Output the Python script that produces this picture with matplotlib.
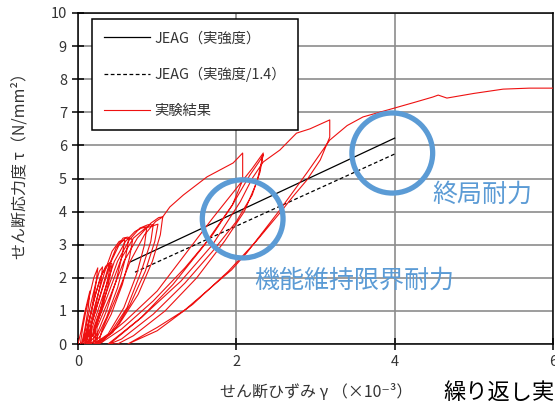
import matplotlib
matplotlib.use('Agg')
import matplotlib.pyplot as plt
from matplotlib.patches import Ellipse

plt.rcParams['font.family'] = ['Noto Sans CJK JP', 'DejaVu Sans']

# JEAG skeleton lines (shear strain x1e-3, shear stress N/mm2)
jeag_x = [0.66, 4.0]
jeag_y = [2.48, 6.22]
jeag14_x = [0.72, 4.0]
jeag14_y = [2.17, 5.74]

# experiment: small cycles near the origin
small_x = [0, 0.04, 0.08, 0.12, 0.15, 0.13, 0.09, 0.05, 0.03,
           0.06, 0.10, 0.16, 0.20, 0.25, 0.22, 0.16, 0.10, 0.06,
           0.10, 0.16, 0.22, 0.27, 0.31, 0.29, 0.22, 0.14, 0.08,
           0.12, 0.20, 0.28, 0.35, 0.40, 0.43, 0.40, 0.32, 0.20, 0.10,
           0.13, 0.22, 0.30, 0.38, 0.41, 0.36, 0.28, 0.18, 0.11,
           0.14, 0.24, 0.34, 0.43, 0.52, 0.59, 0.56, 0.48, 0.36, 0.24, 0.13,
           0.16, 0.27, 0.38, 0.48, 0.57, 0.63, 0.69, 0.65, 0.56, 0.42, 0.27, 0.15,
           0.17, 0.30, 0.42, 0.52, 0.60, 0.64, 0.60, 0.50, 0.36, 0.22, 0.16,
           0.18, 0.32, 0.46, 0.60, 0.72, 0.80, 0.87, 0.84, 0.74, 0.58, 0.38, 0.20,
           0.20, 0.35, 0.50, 0.65, 0.78, 0.88, 0.95, 0.92, 0.80, 0.62, 0.40, 0.22,
           0.22, 0.38, 0.55, 0.70, 0.85, 1.01, 0.97, 0.85, 0.66, 0.44, 0.24,
           0.24, 0.40, 0.58, 0.75, 0.92, 1.02, 1.07, 1.04, 0.94, 0.76, 0.52, 0.30, 0.26,
           0.30, 0.48, 0.66, 0.84, 0.98, 1.07]
small_y = [0, 0.4, 0.9, 1.3, 1.6, 1.1, 0.5, 0.05, 0,
           0.5, 1.0, 1.6, 2.0, 2.3, 1.7, 0.9, 0.3, 0,
           0.5, 1.2, 1.8, 2.2, 2.33, 1.9, 1.1, 0.3, 0,
           0.5, 1.3, 2.0, 2.35, 2.45, 2.42, 2.0, 1.2, 0.3, 0,
           0.6, 1.5, 2.1, 2.4, 2.35, 1.8, 1.0, 0.25, 0,
           0.5, 1.4, 2.2, 2.8, 3.1, 3.14, 2.7, 1.9, 1.0, 0.3, 0,
           0.5, 1.4, 2.3, 2.9, 3.2, 3.23, 3.15, 2.6, 1.8, 0.9, 0.2, 0,
           0.6, 1.6, 2.5, 3.0, 3.2, 3.18, 2.6, 1.7, 0.8, 0.1, 0,
           0.5, 1.5, 2.5, 3.1, 3.4, 3.5, 3.54, 3.0, 2.1, 1.1, 0.3, 0,
           0.5, 1.5, 2.5, 3.15, 3.5, 3.6, 3.6, 3.1, 2.2, 1.1, 0.3, 0,
           0.5, 1.5, 2.6, 3.2, 3.5, 3.62, 3.1, 2.2, 1.2, 0.35, 0,
           0.5, 1.4, 2.5, 3.2, 3.65, 3.82, 3.84, 3.3, 2.5, 1.5, 0.6, 0.05, 0,
           0.4, 1.4, 2.5, 3.3, 3.7, 3.84]

# experiment: large cycles and final loading
big_x = [1.07, 1.16, 1.33, 1.63, 1.96, 2.08, 2.08, 1.95, 1.70, 1.35, 0.95, 0.55, 0.30, 0.25,
         0.60, 1.00, 1.35, 1.70, 2.00, 2.20, 2.34, 2.30, 2.20, 2.00, 1.70, 1.35, 0.95, 0.55, 0.40,
         0.80, 1.20, 1.60, 1.95, 2.17, 2.30, 2.34, 2.26, 2.10, 1.85, 1.50, 1.10, 0.70, 0.50,
         0.38, 0.80, 1.30, 1.70, 2.05, 2.20, 2.34, 2.55, 2.76, 2.93, 3.18,
         3.18, 3.06, 2.89, 2.71, 2.55, 2.25, 1.90, 1.45, 1.00, 0.63,
         1.00, 1.35, 1.94, 2.13, 2.55, 2.90, 3.18, 3.40, 3.60, 4.00, 4.25, 4.48,
         4.55, 4.66, 5.00, 5.37, 5.70, 6.00, 6.20]
big_y = [3.84, 4.14, 4.50, 5.05, 5.47, 5.77, 4.95, 4.20, 3.30, 2.30, 1.30, 0.45, 0.05, 0,
         0.70, 1.60, 2.70, 3.80, 4.70, 5.30, 5.77, 5.20, 4.50, 3.70, 2.80, 1.84, 0.90, 0.15, 0,
         0.80, 1.80, 3.00, 4.20, 5.10, 5.55, 5.72, 4.90, 4.00, 3.10, 2.00, 1.00, 0.25, 0,
         0, 0.80, 1.90, 3.00, 4.30, 5.00, 5.50, 5.86, 6.37, 6.50, 6.77,
         6.25, 5.56, 4.95, 4.44, 3.96, 3.10, 2.20, 1.20, 0.40, 0,
         0.50, 1.03, 2.24, 2.75, 4.05, 5.20, 6.16, 6.60, 6.86, 7.13, 7.30, 7.46,
         7.52, 7.43, 7.57, 7.70, 7.73, 7.73, 7.75]

# annotation circles: centre x, centre y, width, height (data units)
circle_cx = [2.08, 3.97]
circle_cy = [3.78, 5.77]
circle_w = [1.02, 1.02]
circle_h = [2.36, 2.42]
blue = '#5b9bd5'

fig = plt.figure(figsize=(5.55, 4.01), dpi=100)
ax = fig.add_axes([78 / 555, 57 / 401, 475 / 555, 331 / 401])

ax.plot(jeag_x, jeag_y, color='black', lw=0.9, label='JEAG（実強度）', zorder=3)
ax.plot(jeag14_x, jeag14_y, color='black', lw=0.9, linestyle=(0, (3, 2)),
        label='JEAG（実強度/1.4）', zorder=3)
ax.plot(small_x, small_y, color='#ee1111', lw=0.8, label='実験結果', zorder=4)
ax.plot(big_x, big_y, color='#ee1111', lw=0.8, zorder=4)

for cx, cy, w, h in zip(circle_cx, circle_cy, circle_w, circle_h):
    ax.add_patch(Ellipse((cx, cy), w, h, fill=False, edgecolor=blue, lw=3.8, zorder=5))

ax.set_xlim(0, 6)
ax.set_ylim(0, 10)
ax.set_xticks([0, 2, 4, 6])
ax.set_yticks(range(0, 11))
ax.grid(True, color='#8c8c8c', lw=1.2)
ax.set_axisbelow(True)
for sp in ax.spines.values():
    sp.set_color('black')
    sp.set_linewidth(1.1)
ax.tick_params(direction='inout', length=8, width=1.1, labelsize=10.5,
               labelcolor='#333333', pad=4)

leg = ax.legend(loc='upper left', bbox_to_anchor=(0.029, 0.981), fontsize=10.3,
                frameon=True, fancybox=False, edgecolor='black', framealpha=1,
                handlelength=3.2, handletextpad=0.35, labelspacing=1.5,
                borderpad=0.85, borderaxespad=0)
leg.get_frame().set_linewidth(1.1)
for t in leg.get_texts():
    t.set_color('#333333')

ax.text(4.48, 4.5, '終局耐力', color=blue, fontsize=18, va='center', ha='left')
ax.text(2.23, 1.90, '機能維持限界耐力', color=blue, fontsize=18, va='center', ha='left')

fig.text(20 / 555, 1 - 162 / 401, 'せん断応力度 τ（N/mm²）', rotation=90,
         fontsize=11.5, color='#333333', ha='center', va='center')
fig.text(316 / 555, 1 - 392 / 401, 'せん断ひずみ γ （×10⁻³）', fontsize=11.5,
         color='#333333', ha='center', va='center')
fig.text(443 / 555, 1 - 392 / 401, '繰り返し実験', fontsize=16, color='black',
         ha='left', va='center')

fig.savefig('out.png', dpi=100)
